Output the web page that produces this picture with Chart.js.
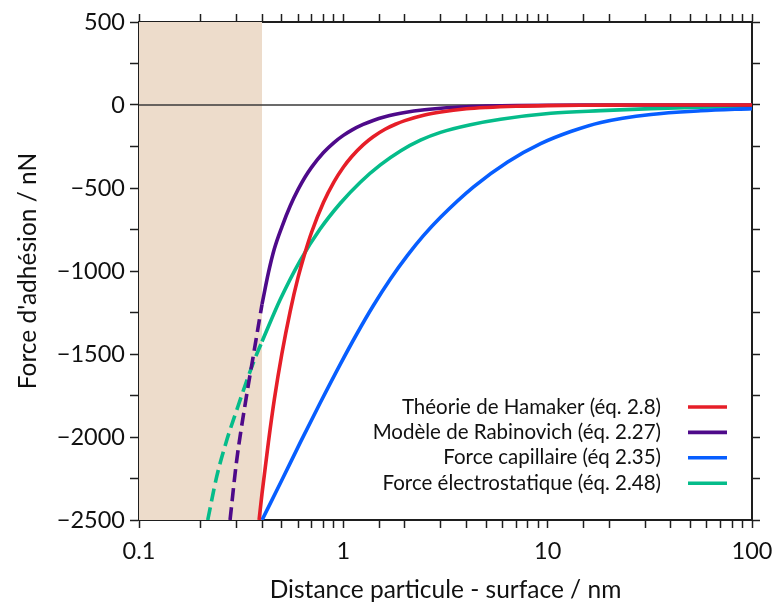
<!DOCTYPE html>
<html>
<head>
<meta charset="utf-8">
<script src="https://cdn.jsdelivr.net/npm/chart.js@4/dist/chart.umd.min.js"></script>
<style>
  html, body { margin: 0; padding: 0; background: #ffffff; }
  #wrap { width: 773px; height: 607px; position: relative; }
</style>
</head>
<body>
<div id="wrap"><canvas id="c" width="773" height="607"></canvas></div>
<script>
// ---------- data ----------
const xTickLabels = ['0.1', '1', '10', '100'];
const yTickLabels = ['500', '0', '\u2212500', '\u22121000', '\u22121500', '\u22122000', '\u22122500'];
const shadedRange = [0.1, 0.4];

const seriesLabels = [
  'Théorie de Hamaker (éq. 2.8)',
  'Modèle de Rabinovich (éq. 2.27)',
  'Force capillaire (éq 2.35)',
  'Force électrostatique (éq. 2.48)'
];

// Hamaker (red) — distance (nm), force (nN)
const hamakerD = [0.387, 0.4, 0.43, 0.46, 0.5, 0.55, 0.6, 0.65, 0.7, 0.8, 0.9, 1.0, 1.1, 1.25, 1.4, 1.6, 1.8, 2.0, 2.5, 3, 4, 5, 7, 10, 15, 20, 30, 50, 100];
const hamakerF = [-2500, -2340, -2030, -1770, -1500, -1240, -1040, -888, -765, -586, -463, -375, -310, -240, -191, -146, -116, -94, -60, -42, -23, -15, -7.7, -3.8, -1.7, -0.9, -0.4, -0.15, 0];

// Rabinovich (purple)
const rabinovichDashD = [0.279, 0.3, 0.33, 0.365, 0.4];
const rabinovichDashF = [-2500, -2150, -1810, -1490, -1200];
const rabinovichD = [0.4, 0.43, 0.46, 0.5, 0.55, 0.6, 0.65, 0.7, 0.8, 0.9, 1.0, 1.1, 1.25, 1.4, 1.6, 1.8, 2.0, 2.5, 3, 4, 5, 7, 10, 15, 20, 50, 100];
const rabinovichF = [-1200, -1010, -865, -735, -607, -510, -434, -374, -286, -226, -183, -151, -117, -93, -71, -56, -45, -29, -20, -11, -7, -3.7, -1.8, -0.8, -0.5, -0.1, 0];

// Capillary (blue)
const capillaryD = [0.4, 0.497, 0.615, 0.771, 0.967, 1.158, 1.403, 1.70, 2.06, 2.466, 2.99, 4.34, 6.37, 9.24, 12.97, 18.2, 32, 56.2, 100];
const capillaryF = [-2500, -2267, -2034, -1794, -1561, -1384, -1208, -1048, -906, -787, -676, -493, -343, -233, -160, -105, -57, -35, -22];

// Electrostatic (green)
const electroDashD = [0.217, 0.24, 0.269, 0.301, 0.337, 0.37, 0.4];
const electroDashF = [-2500, -2239, -2018, -1837, -1660, -1525, -1425];
const electroD = [0.4, 0.491, 0.615, 0.771, 0.967, 1.211, 1.518, 1.903, 2.385, 2.99, 4.19, 5.89, 10.36, 18.19, 32, 56.2, 100];
const electroF = [-1425, -1172, -937, -746, -592, -465, -361, -277, -212, -165, -119, -86, -50, -34, -22, -14, -8];

// ---------- styles ----------
const RED = '#E61E28', PURPLE = '#4E0A8A', BLUE = '#075EFF', GREEN = '#05BC8A';
const FONT = 'Lato, "Open Sans", sans-serif';

const pts = (xs, ys) => xs.map((x, i) => ({ x: x, y: ys[i] }));
const lineDs = (label, xs, ys, color, dashed, inLegend) => ({
  label: label,
  data: pts(xs, ys),
  borderColor: color,
  backgroundColor: color,
  borderWidth: 3.6,
  borderDash: dashed ? [13, 6] : [],
  pointRadius: 0,
  pointHoverRadius: 0,
  showLine: true,
  fill: false,
  cubicInterpolationMode: 'monotone',
  inLegend: inLegend
});

const datasets = [
  lineDs(seriesLabels[0], hamakerD, hamakerF, RED, false, true),
  lineDs(seriesLabels[1], rabinovichD, rabinovichF, PURPLE, false, true),
  lineDs(seriesLabels[1] + ' (extrapolé)', rabinovichDashD, rabinovichDashF, PURPLE, true, false),
  lineDs(seriesLabels[2], capillaryD, capillaryF, BLUE, false, true),
  lineDs(seriesLabels[3], electroD, electroF, GREEN, false, true),
  lineDs(seriesLabels[3] + ' (extrapolé)', electroDashD, electroDashF, GREEN, true, false)
];

const isDecade = v => Math.abs(Math.log10(v) - Math.round(Math.log10(v))) < 1e-6;
const yLabelFor = v => {
  const idx = [500, 0, -500, -1000, -1500, -2000, -2500].indexOf(v);
  return idx >= 0 ? yTickLabels[idx] : '';
};
const xLabelFor = v => {
  if (!isDecade(v)) return '';
  const idx = [0.1, 1, 10, 100].findIndex(d => Math.abs(d - v) < 1e-9 * Math.max(1, d));
  return idx >= 0 ? xTickLabels[idx] : '';
};

// shaded region + zero line
const shadePlugin = {
  id: 'shade',
  beforeDatasetsDraw(chart) {
    const { ctx, chartArea, scales } = chart;
    const x0 = scales.x.getPixelForValue(shadedRange[0]);
    const x1 = scales.x.getPixelForValue(shadedRange[1]);
    ctx.save();
    ctx.fillStyle = '#EDDCCB';
    ctx.fillRect(x0, chartArea.top, x1 - x0, chartArea.bottom - chartArea.top);
    const y0 = scales.y.getPixelForValue(0);
    ctx.strokeStyle = '#3a3a3a';
    ctx.lineWidth = 1.4;
    ctx.beginPath();
    ctx.moveTo(chartArea.left, y0);
    ctx.lineTo(chartArea.right, y0);
    ctx.stroke();
    ctx.restore();
  }
};

// legend (text right-aligned, line sample on the right)
const legendPlugin = {
  id: 'rightLegend',
  afterDatasetsDraw(chart) {
    const { ctx } = chart;
    const items = chart.data.datasets.filter(d => d.inLegend);
    const textRight = 661, lineX0 = 688, lineX1 = 727, yStart = 407, step = 25.4;
    ctx.save();
    ctx.font = '20.5px ' + FONT;
    ctx.textAlign = 'right';
    ctx.textBaseline = 'middle';
    items.forEach((d, i) => {
      const y = yStart + i * step;
      ctx.fillStyle = '#111';
      ctx.fillText(d.label, textRight, y);
      ctx.strokeStyle = d.borderColor;
      ctx.lineWidth = 3.6;
      ctx.beginPath();
      ctx.moveTo(lineX0, y);
      ctx.lineTo(lineX1, y);
      ctx.stroke();
    });
    ctx.restore();
  }
};

const axisColor = '#1e1e1e';
const tickFont = { family: FONT, size: 23.5 };
const titleFont = { family: FONT, size: 24.5 };
const noPad = s => { s.paddingLeft = 0; s.paddingRight = 0; };

new Chart(document.getElementById('c'), {
  type: 'scatter',
  data: { datasets: datasets },
  plugins: [shadePlugin, legendPlugin],
  options: {
    responsive: false,
    animation: false,
    events: [],
    layout: { padding: 0 },
    plugins: { legend: { display: false }, tooltip: { enabled: false } },
    scales: {
      x: {
        type: 'logarithmic', position: 'bottom', min: 0.1, max: 100,
        afterFit: s => { s.height = 87; noPad(s); },
        border: { color: axisColor, width: 2 },
        grid: { drawOnChartArea: false, drawTicks: true, tickLength: 8, tickColor: axisColor, tickWidth: 1.5 },
        ticks: { autoSkip: false, maxRotation: 0, minRotation: 0, color: '#111', font: tickFont, padding: 9,
                 callback: v => xLabelFor(v) },
        title: { display: true, text: 'Distance particule - surface / nm', color: '#111', font: titleFont, padding: { top: 4, bottom: 2 } }
      },
      x2: {
        type: 'logarithmic', position: 'top', min: 0.1, max: 100,
        afterFit: s => { s.height = 22; noPad(s); },
        border: { color: axisColor, width: 2 },
        grid: { drawOnChartArea: false, drawTicks: true, tickLength: 8, tickColor: axisColor, tickWidth: 1.5 },
        ticks: { display: false, autoSkip: false }
      },
      y: {
        type: 'linear', position: 'left', min: -2500, max: 500,
        afterFit: s => { s.width = 139; s.paddingTop = 0; s.paddingBottom = 0; },
        border: { color: axisColor, width: 2 },
        grid: { drawOnChartArea: false, drawTicks: true, tickLength: 9, tickColor: axisColor, tickWidth: 1.5 },
        ticks: { stepSize: 250, autoSkip: false, color: '#111', font: tickFont, padding: 5,
                 callback: v => yLabelFor(v) },
        title: { display: true, text: "Force d'adhésion / nN", color: '#111', font: titleFont, padding: { top: 13, bottom: 4 } }
      },
      y2: {
        type: 'linear', position: 'right', min: -2500, max: 500,
        afterFit: s => { s.width = 21; s.paddingTop = 0; s.paddingBottom = 0; },
        border: { color: axisColor, width: 2 },
        grid: { drawOnChartArea: false, drawTicks: true, tickLength: 8, tickColor: axisColor, tickWidth: 1.5 },
        ticks: { display: false, stepSize: 250, autoSkip: false }
      }
    }
  }
});
</script>
</body>
</html>
